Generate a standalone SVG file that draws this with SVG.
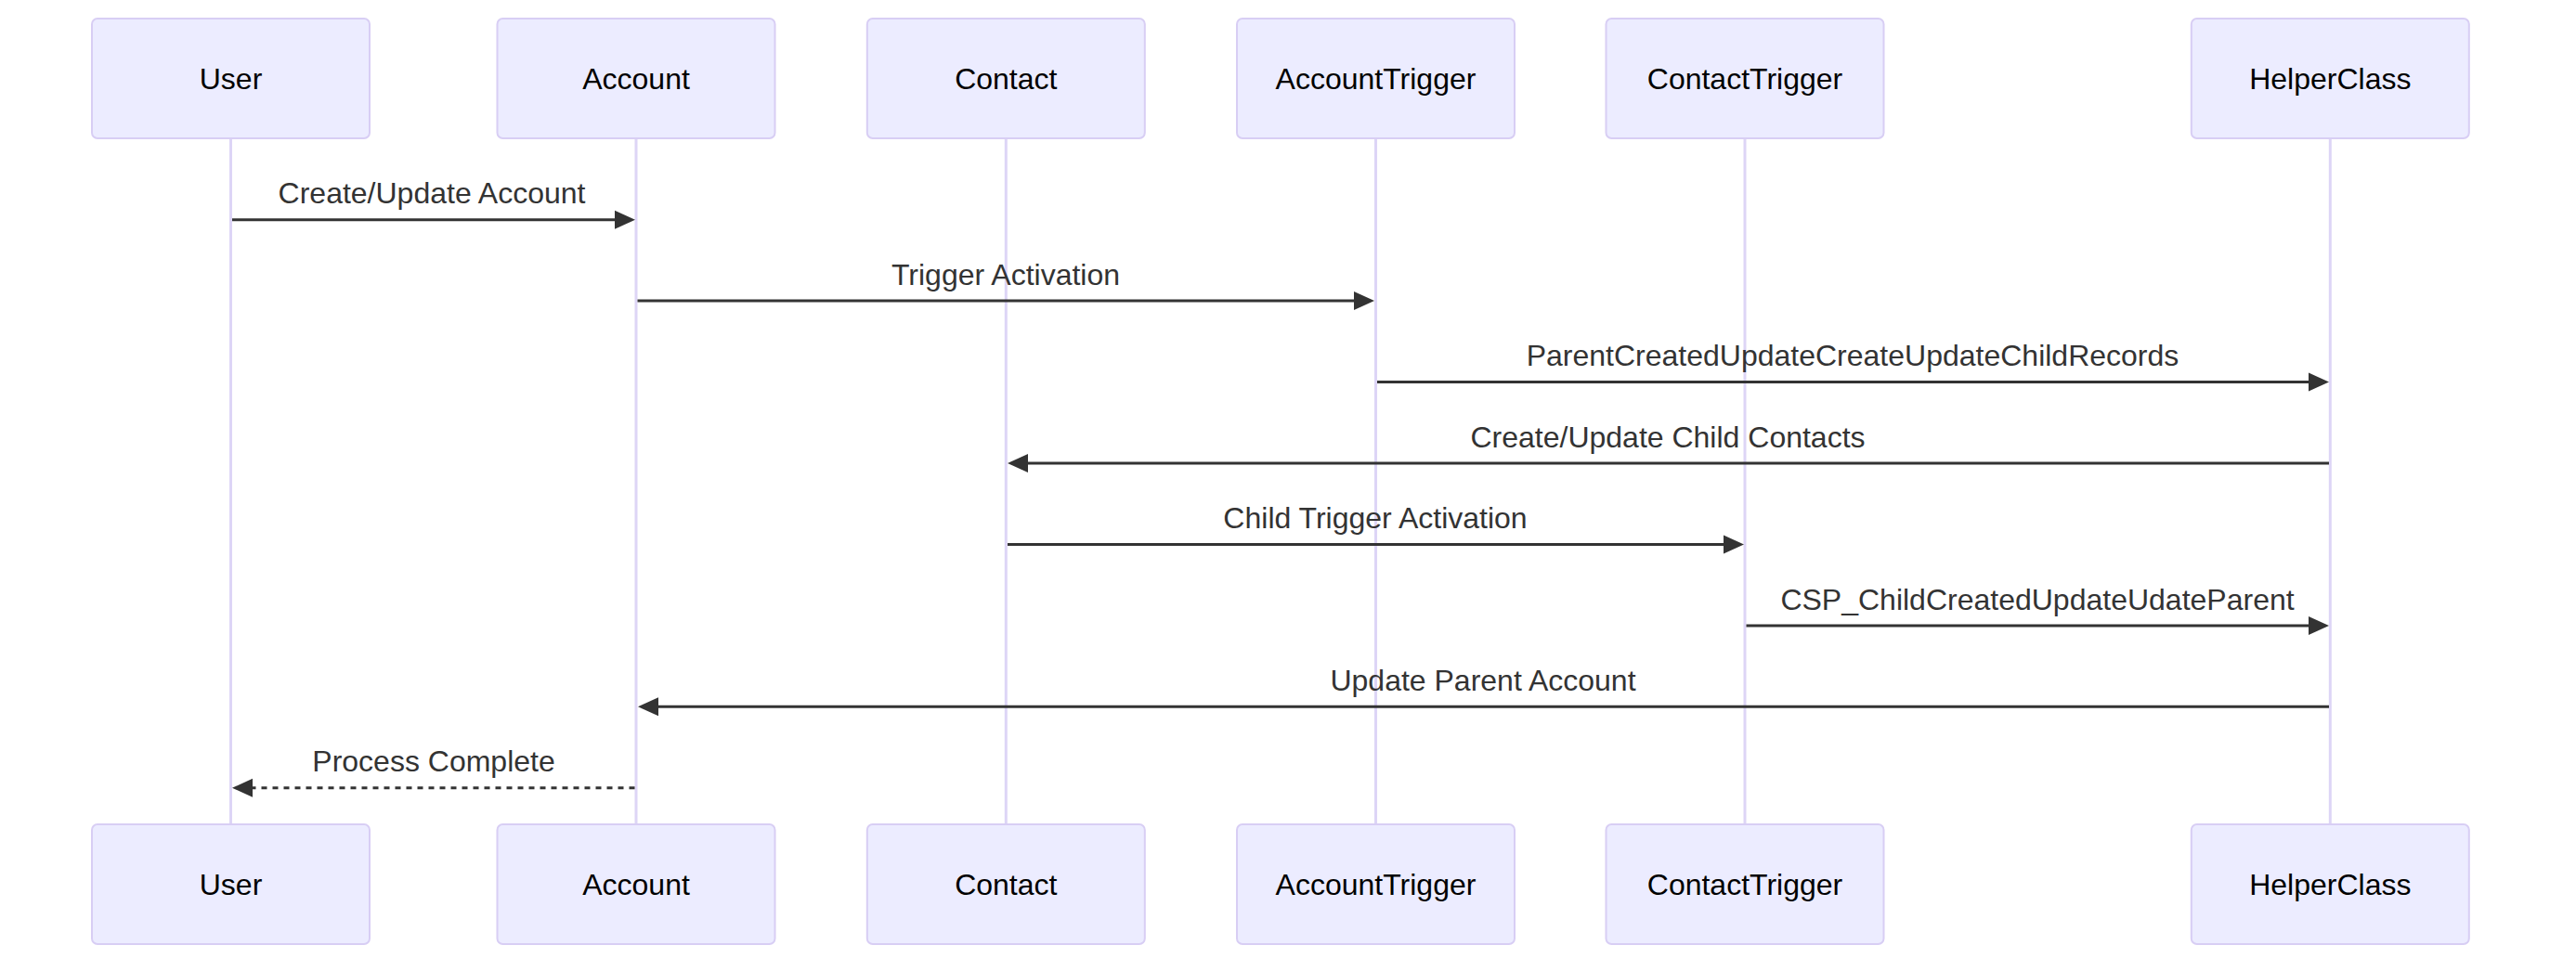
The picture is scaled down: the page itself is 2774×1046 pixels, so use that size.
<svg xmlns="http://www.w3.org/2000/svg" width="2774" height="1046" viewBox="0 0 2774 1046">
<style>
.actor{fill:#ECECFF;stroke:#D8CEF4;stroke-width:2}
.atext{font-family:"Liberation Sans",Arial,sans-serif;font-size:32px;fill:#000;text-anchor:middle;dominant-baseline:central}
.life{stroke:#DDD5F6;stroke-width:3;fill:none}
.msg{stroke:#333;stroke-width:3;fill:none}
.dash{stroke-dasharray:6,6}
.mtext{font-family:"Liberation Sans",Arial,sans-serif;font-size:32px;fill:#333;text-anchor:middle}
.head{fill:#333}
</style>
<rect width="2774" height="1046" fill="#fff"/>
<g id="lifelines">
<line class="life" x1="248.5" y1="149" x2="248.5" y2="888"/>
<line class="life" x1="685" y1="149" x2="685" y2="888"/>
<line class="life" x1="1083.3" y1="149" x2="1083.3" y2="888"/>
<line class="life" x1="1481.5" y1="149" x2="1481.5" y2="888"/>
<line class="life" x1="1879" y1="149" x2="1879" y2="888"/>
<line class="life" x1="2509.3" y1="149" x2="2509.3" y2="888"/>
</g>
<g id="actor-User"><rect class="actor" x="99" y="20" width="299" height="129" rx="6"/><text class="atext" x="248.5" y="85">User</text></g>
<g id="actor-Account"><rect class="actor" x="535.5" y="20" width="299" height="129" rx="6"/><text class="atext" x="685" y="85">Account</text></g>
<g id="actor-Contact"><rect class="actor" x="933.8" y="20" width="299" height="129" rx="6"/><text class="atext" x="1083.3" y="85">Contact</text></g>
<g id="actor-AccountTrigger"><rect class="actor" x="1332" y="20" width="299" height="129" rx="6"/><text class="atext" x="1481.5" y="85">AccountTrigger</text></g>
<g id="actor-ContactTrigger"><rect class="actor" x="1729.5" y="20" width="299" height="129" rx="6"/><text class="atext" x="1879" y="85">ContactTrigger</text></g>
<g id="actor-HelperClass"><rect class="actor" x="2359.8" y="20" width="299" height="129" rx="6"/><text class="atext" x="2509.3" y="85">HelperClass</text></g>
<g id="actor-User-bottom"><rect class="actor" x="99" y="888" width="299" height="129" rx="6"/><text class="atext" x="248.5" y="953">User</text></g>
<g id="actor-Account-bottom"><rect class="actor" x="535.5" y="888" width="299" height="129" rx="6"/><text class="atext" x="685" y="953">Account</text></g>
<g id="actor-Contact-bottom"><rect class="actor" x="933.8" y="888" width="299" height="129" rx="6"/><text class="atext" x="1083.3" y="953">Contact</text></g>
<g id="actor-AccountTrigger-bottom"><rect class="actor" x="1332" y="888" width="299" height="129" rx="6"/><text class="atext" x="1481.5" y="953">AccountTrigger</text></g>
<g id="actor-ContactTrigger-bottom"><rect class="actor" x="1729.5" y="888" width="299" height="129" rx="6"/><text class="atext" x="1879" y="953">ContactTrigger</text></g>
<g id="actor-HelperClass-bottom"><rect class="actor" x="2359.8" y="888" width="299" height="129" rx="6"/><text class="atext" x="2509.3" y="953">HelperClass</text></g>
<g id="connectors">
<line class="msg" x1="250" y1="236.7" x2="665" y2="236.7"/><polygon class="head" points="684,236.7 662,226.7 662,246.7"/>
<text class="mtext" x="465" y="219.3">Create/Update Account</text>
<line class="msg" x1="686.5" y1="324.1" x2="1461" y2="324.1"/><polygon class="head" points="1480,324.1 1458,314.1 1458,334.1"/>
<text class="mtext" x="1083" y="306.7">Trigger Activation</text>
<line class="msg" x1="1483" y1="411.6" x2="2489" y2="411.6"/><polygon class="head" points="2508,411.6 2486,401.6 2486,421.6"/>
<text class="mtext" x="1995" y="394.2">ParentCreatedUpdateCreateUpdateChildRecords</text>
<line class="msg" x1="2508" y1="499" x2="1104" y2="499"/><polygon class="head" points="1085,499 1107,489 1107,509"/>
<text class="mtext" x="1796" y="481.6">Create/Update Child Contacts</text>
<line class="msg" x1="1085" y1="586.5" x2="1859" y2="586.5"/><polygon class="head" points="1878,586.5 1856,576.5 1856,596.5"/>
<text class="mtext" x="1481" y="569.1">Child Trigger Activation</text>
<line class="msg" x1="1880.5" y1="673.9" x2="2489" y2="673.9"/><polygon class="head" points="2508,673.9 2486,663.9 2486,683.9"/>
<text class="mtext" x="2194" y="656.5">CSP_ChildCreatedUpdateUdateParent</text>
<line class="msg" x1="2508" y1="761.3" x2="706" y2="761.3"/><polygon class="head" points="687,761.3 709,751.3 709,771.3"/>
<text class="mtext" x="1597" y="743.9">Update Parent Account</text>
<line class="msg dash" x1="683.5" y1="848.8" x2="270" y2="848.8"/><polygon class="head" points="250,848.8 272,838.8 272,858.8"/>
<text class="mtext" x="467" y="831.4">Process Complete</text>
</g>
</svg>
